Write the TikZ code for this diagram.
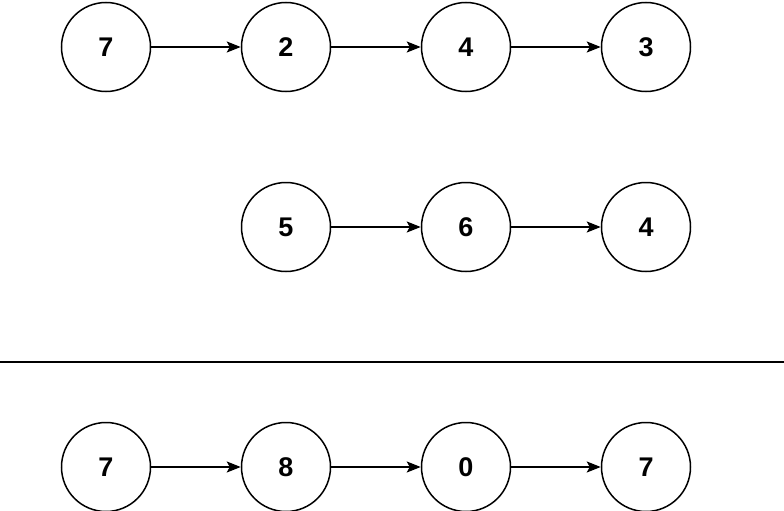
\documentclass[tikz,border=0pt]{standalone}
\usepackage{fontspec}
\setmainfont{Liberation Sans}
\usetikzlibrary{arrows.meta}
\begin{document}
\begin{tikzpicture}[x=1pt,y=-1pt,
  nd/.style={circle,draw,line width=1.5pt,minimum size=89pt,inner sep=0pt,font=\fontsize{27}{30}\selectfont\bfseries},
  ar/.style={-{Stealth[length=14pt,width=11pt,inset=3pt]},line width=1.5pt}]
\useasboundingbox (0,0) rectangle (784,511);
\foreach \n/\x/\y/\t in {a1/106/47/7,a2/286/47/2,a3/466/47/4,a4/646/47/3,
  b1/286/227/5,b2/466/227/6,b3/646/227/4,
  c1/106/467/7,c2/286/467/8,c3/466/467/0,c4/646/467/7}
  \node[nd] (\n) at (\x,\y) {\t};
\draw[ar] (a1)--(a2); \draw[ar] (a2)--(a3); \draw[ar] (a3)--(a4);
\draw[ar] (b1)--(b2); \draw[ar] (b2)--(b3);
\draw[ar] (c1)--(c2); \draw[ar] (c2)--(c3); \draw[ar] (c3)--(c4);
\coordinate (l1) at (0,362); \coordinate (l2) at (784,362);
\draw[line width=1.5pt] (l1)--(l2);
\end{tikzpicture}
\end{document}
